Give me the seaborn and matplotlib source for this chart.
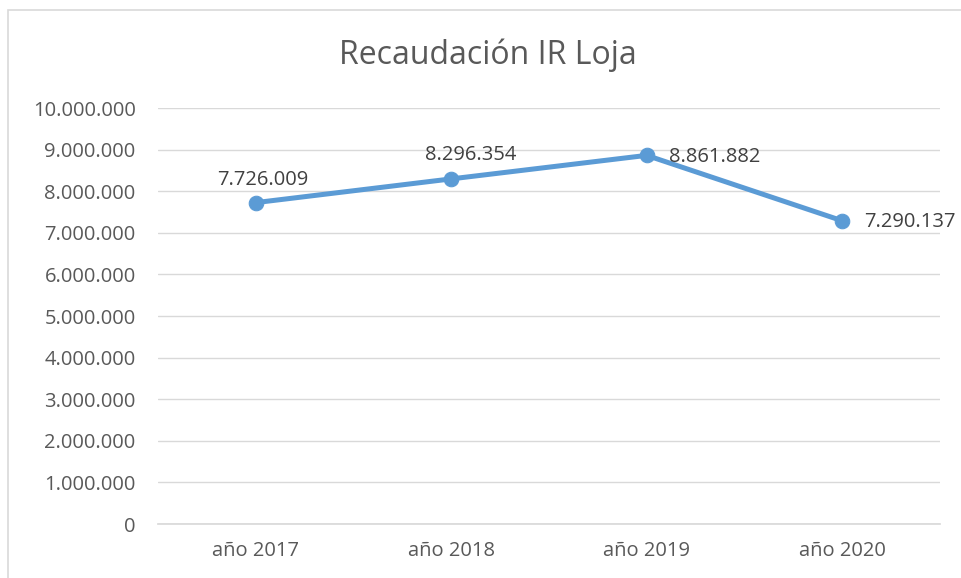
import matplotlib
matplotlib.use("Agg")
import matplotlib.pyplot as plt
import matplotlib.ticker as mticker
from matplotlib.patches import Rectangle
import seaborn as sns
import pandas as pd

# Datos
anios = ["año 2017", "año 2018", "año 2019", "año 2020"]
recaudacion = [7726009, 8296354, 8861882, 7290137]
titulo = "Recaudación IR Loja"

# Posición de cada etiqueta de dato (offset en puntos, alineación)
offsets = [((5, 9), "center"), ((14, 10), "center"), ((16, -1), "left"), ((16, -1), "left")]

sns.set_theme(style="white")
plt.rcParams['font.family'] = ['Open Sans', 'DejaVu Sans']

df = pd.DataFrame({"anio": anios, "total": recaudacion})

fig = plt.figure(figsize=(9.62, 5.78), dpi=100)
ax = fig.add_axes([0.1642, 0.0934, 0.8128, 0.7197])

sns.lineplot(data=df, x="anio", y="total", ax=ax, color="#5B9BD5", linewidth=3.6,
             marker="o", markersize=10.5, markeredgecolor="#5B9BD5", sort=False)

ax.set_xlim(-0.5, 3.5)
ax.set_ylim(0, 10000000)
ax.yaxis.set_major_locator(mticker.MultipleLocator(1000000))
ax.yaxis.set_major_formatter(mticker.FuncFormatter(lambda v, p: f"{int(v):,}".replace(",", ".")))
ax.grid(axis="y", color="#d9d9d9", linewidth=1)
ax.set_axisbelow(True)
for s in ["top", "right", "left"]:
    ax.spines[s].set_visible(False)
ax.spines["bottom"].set_color("#d9d9d9")
ax.tick_params(axis="both", length=0, labelsize=14.5, labelcolor="#595959")
ax.tick_params(axis="y", pad=16)
ax.tick_params(axis="x", pad=12)
ax.set_xlabel("")
ax.set_ylabel("")

for i, v in enumerate(recaudacion):
    off, ha = offsets[i]
    ax.annotate(f"{v:,}".replace(",", "."), (i, v), xytext=off, textcoords="offset points",
                ha=ha, va="bottom" if ha == "center" else "center",
                fontsize=14.5, color="#404040", annotation_clip=False)

fig.text(0.507, 0.905, titulo, ha="center", va="center", fontsize=23, color="#595959")

# marco del gráfico
fig.patches.append(Rectangle((8 / 962, -0.1), 1.1, 1 - 10 / 578 + 0.1, transform=fig.transFigure,
                             fill=False, edgecolor="#d9d9d9", linewidth=1.2, zorder=0))

fig.savefig("out.png", dpi=100, facecolor="white")
